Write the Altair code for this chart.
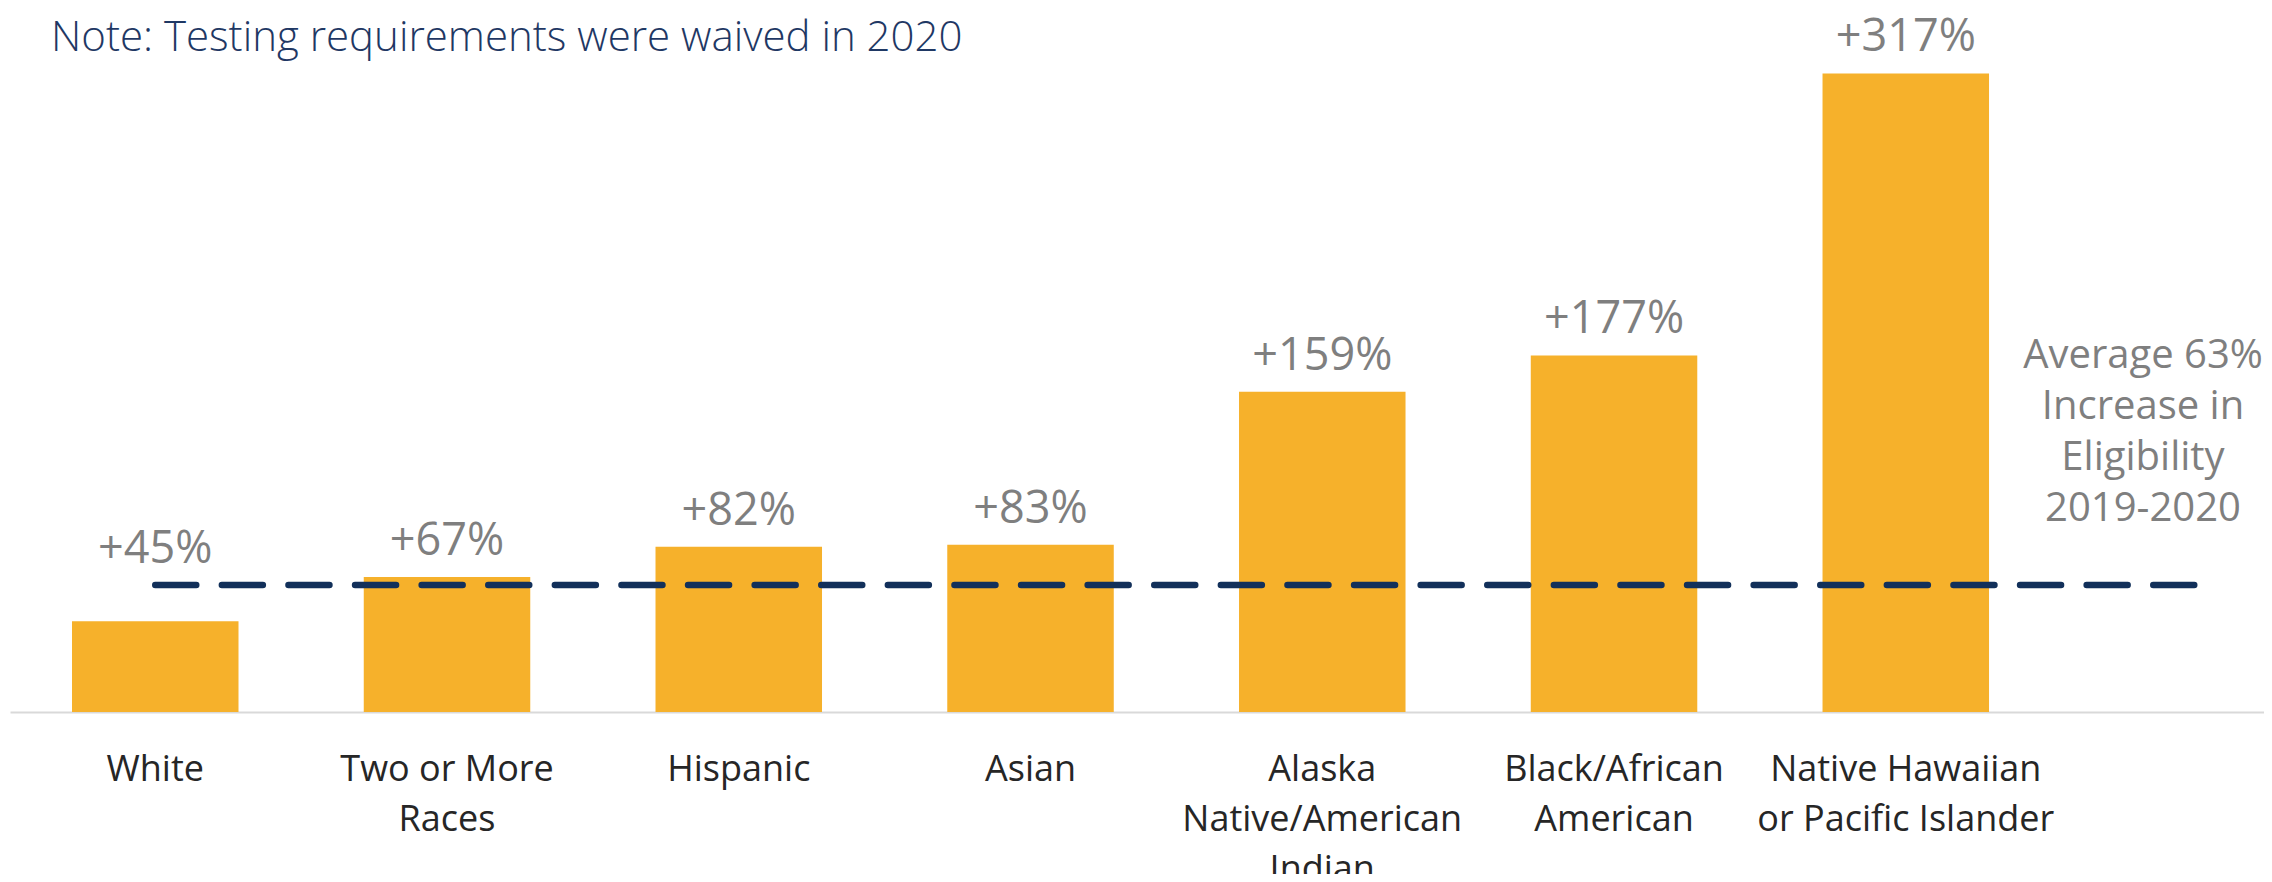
import altair as alt
import pandas as pd

# ---- data ----
categories = [
    "White",
    "Two or More\nRaces",
    "Hispanic",
    "Asian",
    "Alaska\nNative/American\nIndian",
    "Black/African\nAmerican",
    "Native Hawaiian\nor Pacific Islander",
]
increase = [45, 67, 82, 83, 159, 177, 317]
average = 63
note = "Note: Testing requirements were waived in 2020"
avg_lines = ["Average 63%", "Increase in", "Eligibility", "2019-2020"]

df = pd.DataFrame({"group": categories, "pct": increase})
df["label"] = ["+%d%%" % v for v in increase]
avg_df = pd.DataFrame({"avg": [average]})
one = pd.DataFrame({"k": [0]})

W, H = 2254, 704
FONT = "Open Sans"

xscale = alt.Scale(domain=categories, paddingInner=0.4293, paddingOuter=0.5775,
                   align=0.184, round=False)
yscale = alt.Scale(domain=[0, 349.5], nice=False, zero=True)

xaxis = alt.Axis(title=None, labelAngle=0, labelExpr="split(datum.label, '\\n')",
                 labelFont=FONT, labelFontSize=36, labelColor="#262626",
                 labelLineHeight=50, labelPadding=40, ticks=False, tickSize=0,
                 domainColor="#D9D9D9", domainWidth=2, grid=False,
                 labelBaseline="top", labelOverlap=False, labelLimit=500)

bars = alt.Chart(df).mark_bar(color="#F6B12B").encode(
    x=alt.X("group:N", scale=xscale, sort=None, axis=xaxis),
    y=alt.Y("pct:Q", scale=yscale, axis=None),
)

labels = alt.Chart(df).transform_calculate(
    ly=f"max(datum.pct, {average})"
).mark_text(dy=-22, font=FONT, fontSize=45, color="#7F7F7F",
            baseline="alphabetic", align="center").encode(
    x=alt.X("group:N", scale=xscale, sort=None),
    y=alt.Y("ly:Q", scale=yscale),
    text="label:N",
)

rule = alt.Chart(avg_df).mark_rule(
    color="#12305A", strokeWidth=6.5, strokeDash=[41, 25.6], strokeCap="round",
    x2Offset=290,
).encode(
    x=alt.datum(categories[0]),
    x2=alt.datum(categories[-1]),
    y=alt.Y("avg:Q", scale=yscale),
)

ann = alt.Chart(one).mark_text(
    text=avg_lines, align="center", baseline="alphabetic", font=FONT,
    fontSize=40, color="#7F7F7F", lineHeight=51,
).encode(x=alt.value(2133), y=alt.value(360))

title_txt = alt.Chart(one).mark_text(
    text=note, align="left", baseline="alphabetic", font=FONT, fontWeight=300,
    fontSize=42, color="#1F3864",
).encode(x=alt.value(41), y=alt.value(43))

chart = alt.layer(bars, labels, rule, ann, title_txt).properties(
    width=W, height=H,
    padding={"left": 2, "top": 0, "right": 0, "bottom": 162},
    autosize=alt.AutoSizeParams(type="none"),
).configure_view(stroke=None)

chart.save("out.html", embed_options={"renderer": "svg", "actions": False})
